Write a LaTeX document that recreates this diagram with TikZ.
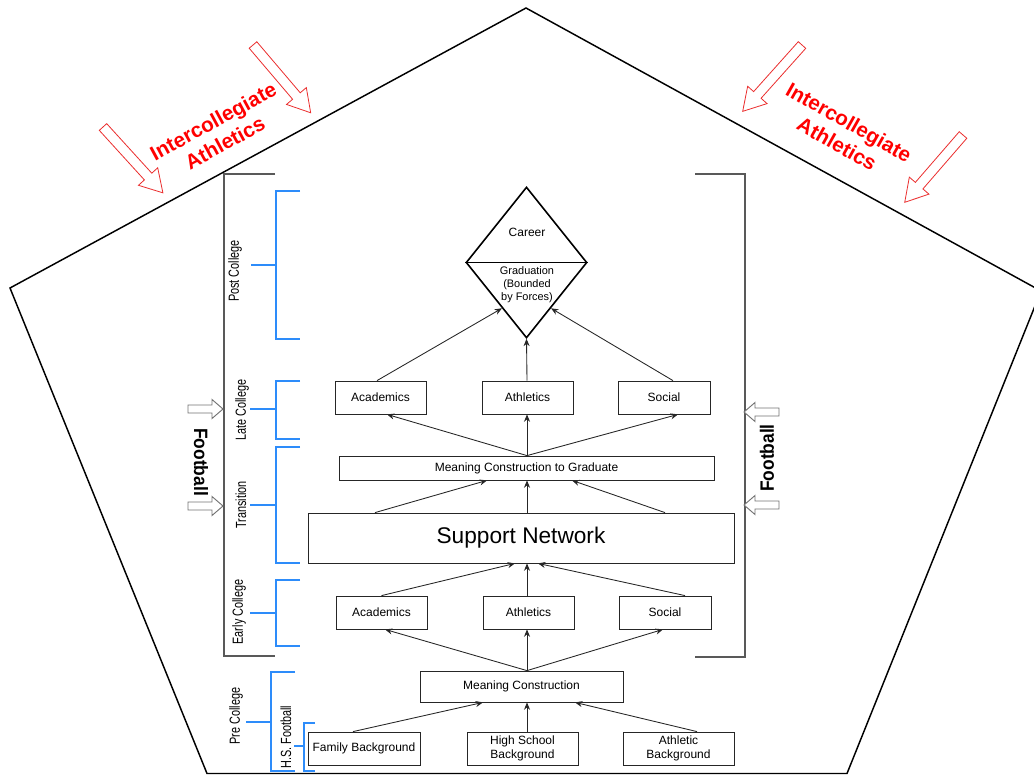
\documentclass[tikz,border=0pt]{standalone}
\usepackage{fontspec}
\setmainfont{Liberation Sans}
\usetikzlibrary{calc,shapes.geometric,arrows.meta}

\definecolor{phaseblue}{RGB}{45,140,250}
\definecolor{forcered}{RGB}{235,45,45}
\tikzset{
  pent/.style={draw=black, line width=1.1pt, line join=miter},
  gbr/.style={draw=black!65, line width=1.4pt},
  bbr/.style={draw=phaseblue, line width=1.5pt},
  phase/.style={font=\fontsize{11}{13}\selectfont, rotate=90, inner sep=0pt},
  box/.style 2 args={draw=black!85, line width=0.6pt, inner sep=0pt,
    minimum width=#1*0.75pt, minimum height=#2*0.75pt, align=center,
    font=\fontsize{9}{10.5}\selectfont},
  conn/.style={draw=black!85, line width=0.65pt, -{Stealth[length=5.5pt,width=4.5pt]}},
  redtxt/.style={text=red, font=\bfseries\fontsize{15.5}{18.5}\selectfont, align=center, inner sep=0pt},
  fbtxt/.style={font=\bfseries\fontsize{14.5}{16}\selectfont, inner sep=0pt},
  redarrow/.pic={\draw[forcered, line width=0.6pt, fill=white, line join=miter]
    (0,-5) -- (67,-5) -- (67,-13) -- (89,0) -- (67,13) -- (67,5) -- (0,5) -- cycle;},
  fbarrow/.pic={\draw[black!55, line width=0.7pt, fill=white, line join=miter]
    (0,-4) -- (24,-4) -- (24,-9.5) -- (35,0) -- (24,9.5) -- (24,4) -- (0,4) -- cycle;},
}
\newcommand{\narrow}[1]{\scalebox{0.74}[1]{#1}}

\begin{document}
\begin{tikzpicture}[x=0.75pt, y=-0.75pt]
\useasboundingbox (0,0) rectangle (1034,774);
\clip (0,0) rectangle (1034,774);

% outer pentagon
\draw[pent] (526,8) -- (1041,291) -- (847,773.5) -- (207,773.5) -- (10,288) -- cycle;

% red pressure arrows and labels
\pic[rotate=-47.7] at (103,127) {redarrow};
\pic[rotate=-49.6] at (253,45) {redarrow};
\pic[rotate=-131.8] at (802,45) {redarrow};
\pic[rotate=-130.9] at (963,135) {redarrow};
\node[redtxt, rotate=28.5] (iaL) at (219,132) {Intercollegiate\\Athletics};
\node[redtxt, rotate=-29.5] (iaR) at (843,133) {Intercollegiate\\Athletics};

% football brackets
\draw[gbr] (275,174) -- (224,174) -- (224,656) -- (275,656);
\draw[gbr] (695,174) -- (745,174) -- (745,657) -- (695,657);
\pic at (188,409) {fbarrow};
\pic at (188,506) {fbarrow};
\pic[rotate=180] at (779,412) {fbarrow};
\pic[rotate=180] at (779,505) {fbarrow};
\node[fbtxt, rotate=-90] (fbL) at (201,462) {\scalebox{0.9}[1]{Football}};
\node[fbtxt, rotate=90] (fbR) at (767,458) {\scalebox{0.9}[1]{Football}};

% phase brackets
\draw[bbr] (300,191) -- (276,191) -- (276,339) -- (300,339);
\draw[bbr] (251,265) -- (276,265);
\draw[bbr] (300,381) -- (276,381) -- (276,439) -- (300,439);
\draw[bbr] (250,409) -- (276,409);
\draw[bbr] (300,447) -- (276,447) -- (276,563) -- (300,563);
\draw[bbr] (250,505) -- (276,505);
\draw[bbr] (300,580) -- (276,580) -- (276,646) -- (300,646);
\draw[bbr] (250,613) -- (276,613);
\draw[bbr] (295,672) -- (271,672) -- (271,771) -- (295,771);
\draw[bbr] (246,722) -- (271,722);
\draw[bbr] (315,723) -- (304,723) -- (304,771) -- (315,771);
\draw[bbr] (294,746) -- (304,746);

\node[phase] (lpost) at (235,271) {\narrow{Post College}};
\node[phase] (llate) at (242,410) {\narrow{Late College}};
\node[phase] (ltrans) at (241,505) {\narrow{Transition}};
\node[phase] (learly) at (239,612) {\narrow{Early College}};
\node[phase] (lpre) at (236,716) {\narrow{Pre College}};
\node[phase] (lhs) at (286,737) {\narrow{H.S. Football}};

% outcome diamond
\node[diamond, draw=black, line width=1.2pt, minimum width=90.75pt, minimum height=113.25pt,
      inner sep=0pt] (dia) at (526.5,262.5) {};
\draw[black, line width=1.2pt] (dia.west) -- (dia.east);
\node[font=\fontsize{9}{10.5}\selectfont] (car) at (527,232) {Career};
\node[font=\fontsize{8.2}{9.8}\selectfont, align=center] (grad) at (527,285)
  {Graduation\\(Bounded\\by Forces)};

% vertical axis of the flow
\coordinate (ax) at (527,0);

% boxes
\node[box={91}{33}] (aca2) at (380.5,397.5) {Academics};
\node[box={91}{33}] (ath2) at (527.5,397.5) {Athletics};
\node[box={92}{33}] (soc2) at (664,397.5) {Social};
\node[box={375}{24}] (mcg) at (526.5,468) {Meaning Construction to Graduate};
\node[box={426}{50}, font=\fontsize{17}{20}\selectfont] (sn) at (521,538) {Support Network};
\node[box={91}{33}] (aca1) at (381.5,612.5) {Academics};
\node[box={91}{33}] (ath1) at (528.5,612.5) {Athletics};
\node[box={92}{33}] (soc1) at (665,612.5) {Social};
\node[box={203}{31}] (mc) at (521.5,686.5) {Meaning Construction};
\node[box={112}{33}] (fam) at (364,748.5) {Family Background};
\node[box={111}{33}] (hs) at (522.5,748.5) {High School\\Background};
\node[box={111}{33}] (athb) at (678.5,748.5) {Athletic\\Background};

% backgrounds -> meaning construction
\draw[conn] ($(fam.north)+(-11,0)$) -- ($(mc.south)+(-38.5,0)$);
\draw[conn] (hs.north -| ax) -- (mc.south -| ax);
\draw[conn] ($(athb.north)+(18.5,0)$) -- ($(mc.south)+(53.5,0)$);

% meaning construction -> early college
\draw[conn] (mc.north -| ax) -- ($(aca1.south)+(3.5,0)$);
\draw[conn] (mc.north -| ax) -- (ath1.south -| ax);
\draw[conn] (mc.north -| ax) -- ($(soc1.south)+(-2,0)$);

% early college -> support network
\draw[conn] (aca1.north) -- ($(sn.south)+(-6,0)$);
\draw[conn] (ath1.north -| ax) -- (sn.south -| ax);
\draw[conn] ($(soc1.north)+(20,0)$) -- ($(sn.south)+(17,0)$);

% support network -> meaning construction to graduate
\draw[conn] ($(sn.north)+(-146,0)$) -- ($(mcg.south)+(-39.5,0)$);
\draw[conn] (sn.north -| ax) -- (mcg.south -| ax);
\draw[conn] ($(sn.north)+(144,0)$) -- ($(mcg.south)+(45.5,0)$);

% meaning construction to graduate -> late college
\draw[conn] (mcg.north -| ax) -- ($(aca2.south)+(6.5,0)$);
\draw[conn] (mcg.north -| ax) -- (ath2.south -| ax);
\draw[conn] (mcg.north -| ax) -- ($(soc2.south)+(14,0)$);

% late college -> graduation
\draw[conn] ($(aca2.north)+(-3.5,0)$) -- ($(dia.west)!0.6!(dia.south)$);
\draw[conn] (ath2.north -| ax) -- (dia.south);
\draw[conn] ($(soc2.north)+(9,0)$) -- ($(dia.east)!0.6!(dia.south)$);
\end{tikzpicture}
\end{document}
